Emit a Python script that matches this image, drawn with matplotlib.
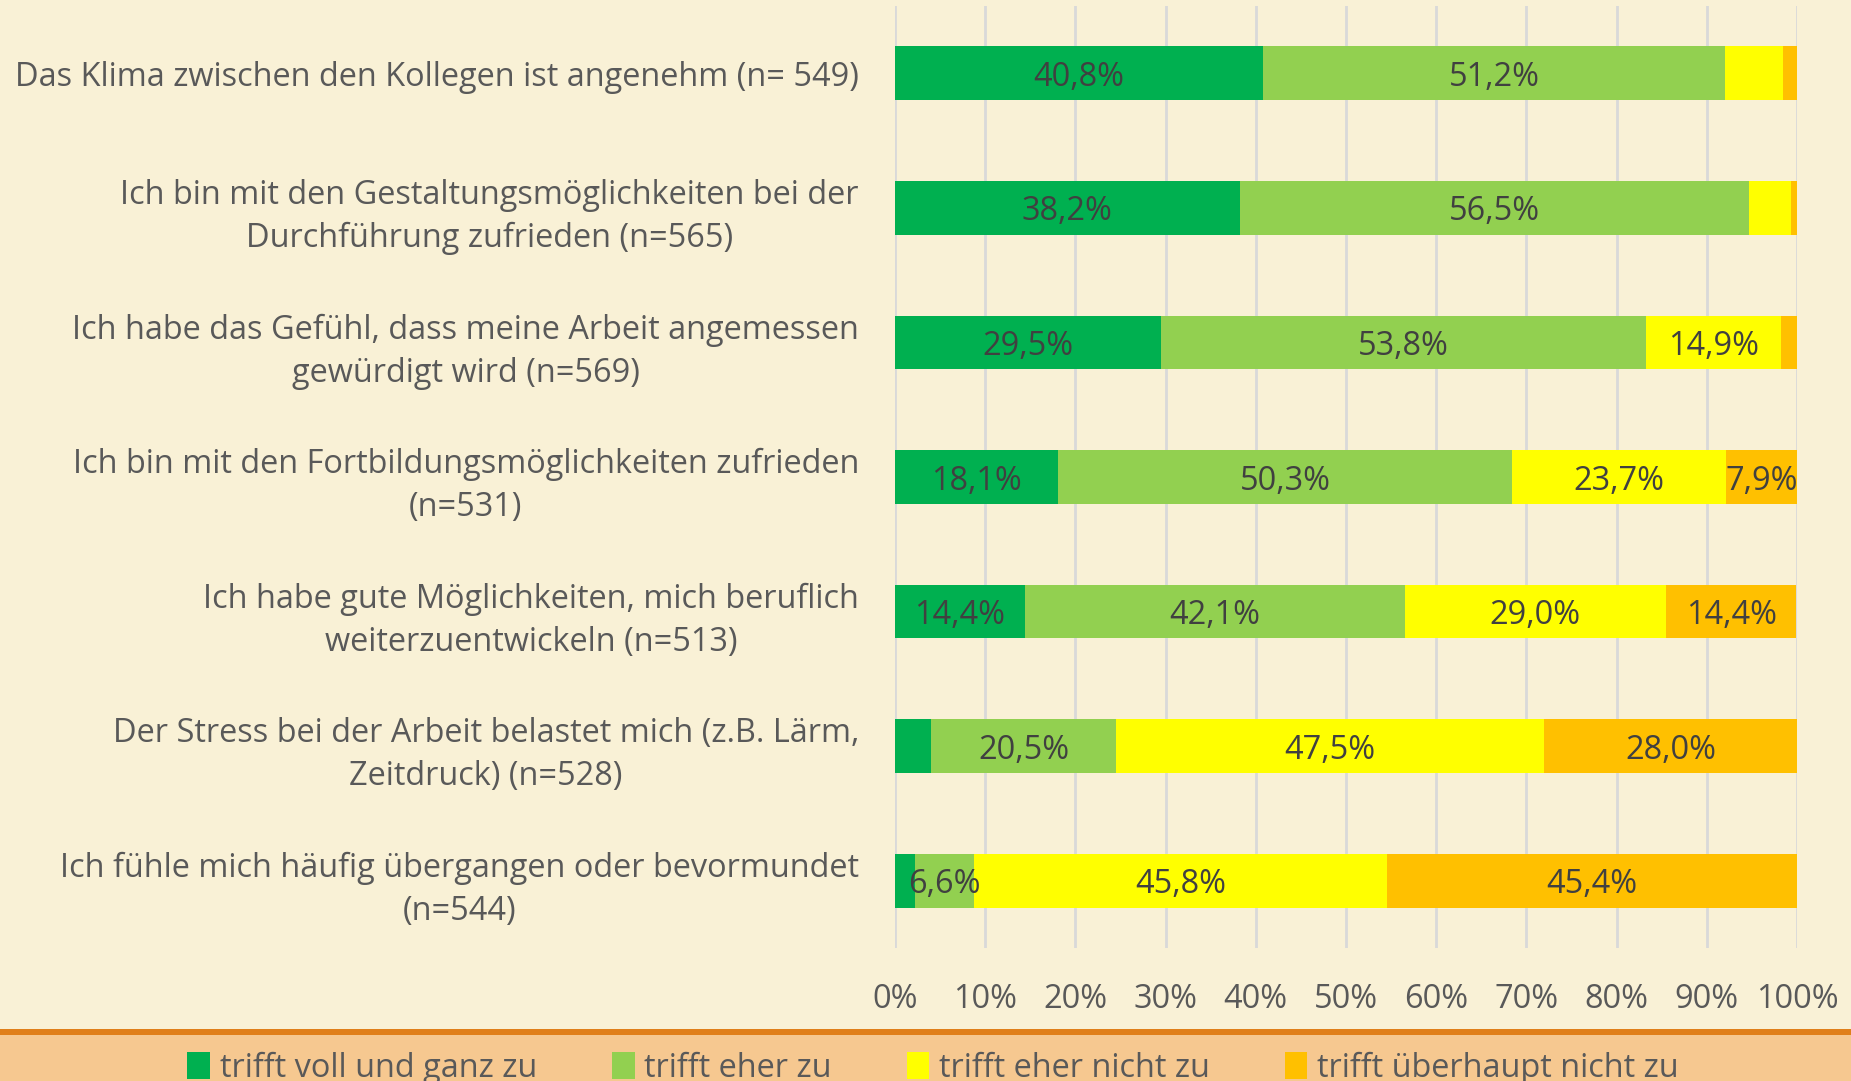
import matplotlib.pyplot as plt
from matplotlib.patches import Rectangle, Patch
import numpy as np

plt.rcParams['font.family'] = ['Open Sans', 'DejaVu Sans']

labels = [
    "Das Klima zwischen den Kollegen ist angenehm (n= 549)",
    "Ich bin mit den Gestaltungsmöglichkeiten bei der\nDurchführung zufrieden (n=565)",
    "Ich habe das Gefühl, dass meine Arbeit angemessen\ngewürdigt wird (n=569)",
    "Ich bin mit den Fortbildungsmöglichkeiten zufrieden\n(n=531)",
    "Ich habe gute Möglichkeiten, mich beruflich\nweiterzuentwickeln (n=513)",
    "Der Stress bei der Arbeit belastet mich (z.B. Lärm,\nZeitdruck) (n=528)",
    "Ich fühle mich häufig übergangen oder bevormundet\n(n=544)",
]
series = ["trifft voll und ganz zu", "trifft eher zu", "trifft eher nicht zu", "trifft überhaupt nicht zu"]
voll = [40.8, 38.2, 29.5, 18.1, 14.4, 4.0, 2.2]
eher = [51.2, 56.5, 53.8, 50.3, 42.1, 20.5, 6.6]
eher_nicht = [6.5, 4.6, 14.9, 23.7, 29.0, 47.5, 45.8]
ueberhaupt = [1.5, 0.7, 1.8, 7.9, 14.4, 28.0, 45.4]
colors = ["#00B050", "#92D050", "#FFFF00", "#FFC000"]

fs = 23.4
bg = "#F9F1D6"
fig = plt.figure(figsize=(18.51, 10.81), dpi=100, facecolor=bg)
ax = fig.add_axes([895/1851, 1-948/1081, 902/1851, 942/1081])
ax.set_facecolor(bg)

y = np.arange(len(labels))
left = np.zeros(len(labels))
for vals, c in zip([voll, eher, eher_nicht, ueberhaupt], colors):
    vals = np.array(vals)
    ax.barh(y, vals, left=left, height=0.4, color=c, zorder=3)
    for yi, l, v in zip(y, left, vals):
        if v >= 6.6:
            ax.text(l + v/2, yi + 0.03, f"{v:.1f}%".replace(".", ","), ha="center", va="center",
                    fontsize=fs, color="#404040", zorder=4)
    left += vals

ax.set_xlim(0, 100)
ax.set_ylim(len(labels)-0.5, -0.5)
ax.set_xticks(np.arange(0, 101, 10))
ax.set_xticklabels([f"{t}%" for t in range(0, 101, 10)], fontsize=fs, color="#595959")
ax.set_yticks(y)
ax.set_yticklabels(labels, fontsize=fs, color="#595959")
for t in ax.get_yticklabels():
    t.set_multialignment("center")
    t.set_linespacing(1.4)
ax.tick_params(axis="both", length=0)
ax.tick_params(axis="x", pad=25)
ax.tick_params(axis="y", pad=26)
ax.grid(axis="x", color="#D9D9D9", linewidth=2, zorder=0)
for s in ax.spines.values():
    s.set_visible(False)

# legend band
fig.patches.append(Rectangle((0, 0), 1, 1-1029/1081, transform=fig.transFigure,
                             facecolor="#F6C890", edgecolor="none", zorder=0))
fig.patches.append(Rectangle((0, 1-1035/1081), 1, 6/1081, transform=fig.transFigure,
                             facecolor="#E07F1A", edgecolor="none", zorder=1))
handles = [Patch(facecolor=c, edgecolor="none") for c in colors]
leg = fig.legend(handles, series, loc="center", bbox_to_anchor=(933/1851, 1-1068/1081),
                 ncol=4, frameon=False, fontsize=fs, handlelength=0.7, handleheight=0.9,
                 handletextpad=0.3, columnspacing=2.3, labelcolor="#595959")

fig.savefig("out.png", dpi=100, facecolor=bg)
